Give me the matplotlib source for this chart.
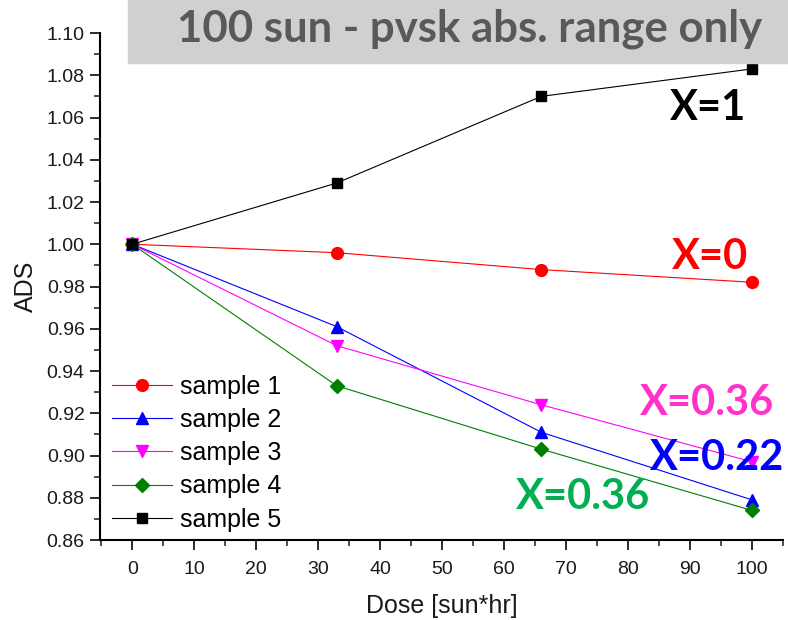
import numpy as np
import matplotlib.pyplot as plt
from matplotlib.ticker import MultipleLocator
from matplotlib.patches import Rectangle

# Доза облучения и нормированные значения ADS для пяти образцов
dose = [0, 33, 66, 100]
sample1 = [1.000, 0.996, 0.988, 0.982]
sample2 = [1.000, 0.961, 0.911, 0.879]
sample3 = [1.000, 0.952, 0.924, 0.897]
sample4 = [1.000, 0.933, 0.903, 0.874]
sample5 = [1.000, 1.029, 1.070, 1.083]

labels = ['sample 1', 'sample 2', 'sample 3', 'sample 4', 'sample 5']
series = [sample1, sample2, sample3, sample4, sample5]
colors = ['#ff0000', '#0000ff', '#ff00ff', '#008000', '#000000']
markers = ['o', '^', 'v', 'D', 's']
msizes = [8.5, 9, 9, 7.5, 7.5]

# Подписи составов справа
notes = ['X=1', 'X=0', 'X=0.36', 'X=0.22', 'X=0.36']
note_colors = ['#000000', '#ff0000', '#ff33cc', '#0000ff', '#00b050']
note_pos = [(708, 108), (710, 257), (707, 403), (717, 458), (583, 497)]

plt.rcParams['font.family'] = ['Liberation Sans', 'DejaVu Sans']

fig = plt.figure(figsize=(7.88, 6.2), dpi=100)
ax = fig.add_axes([100 / 788, 1 - 540 / 620, 683 / 788, 507 / 620])

for y, lab, c, m, ms in zip(series, labels, colors, markers, msizes):
    ax.plot(dose, y, color=c, lw=0.8, marker=m, ms=ms, mec=c, mfc=c, label=lab)

ax.set_xlim(-5.2, 105)
ax.set_ylim(0.86, 1.10)
ax.xaxis.set_major_locator(MultipleLocator(10))
ax.xaxis.set_minor_locator(MultipleLocator(5))
ax.yaxis.set_major_locator(MultipleLocator(0.02))
ax.yaxis.set_minor_locator(MultipleLocator(0.01))
ax.yaxis.set_major_formatter(plt.FormatStrFormatter('%.2f'))

for side in ['top', 'right']:
    ax.spines[side].set_visible(False)
for side in ['left', 'bottom']:
    ax.spines[side].set_linewidth(1.5)
ax.tick_params(which='major', length=7, width=1.3, direction='out',
               labelsize=14, colors='#1a1a1a', pad=4)
ax.tick_params(which='minor', length=4, width=1.1, direction='out', colors='#1a1a1a')
ax.tick_params(axis='x', which='major', pad=8)

ax.set_xlabel('Dose [sun*hr]', fontsize=18, color='#1a1a1a', labelpad=12)
ax.set_ylabel('ADS', fontsize=18, color='#1a1a1a', labelpad=6)

leg = ax.legend(loc='lower left', bbox_to_anchor=(-0.008, -0.018), frameon=False,
                fontsize=18, handlelength=2.4, handletextpad=0.3,
                labelspacing=0.37, borderaxespad=0.3)

# Заголовок на сером фоне
fig.patches.append(Rectangle((128 / 788, 1 - 63 / 620), 660 / 788, 63 / 620,
                             transform=fig.transFigure, color='#d0d0d0', zorder=0))
fig.text(470 / 788, 1 - 29 / 620, '100 sun - pvsk abs. range only',
         fontsize=31.5, fontweight='bold', color='#595959', family='Lato',
         ha='center', va='center')

for t, c, (px, py) in zip(notes, note_colors, note_pos):
    fig.text(px / 788, 1 - py / 620, t, fontsize=30, fontweight='bold',
             color=c, family='Lato', ha='center', va='center')

fig.savefig('out.png', dpi=100)
